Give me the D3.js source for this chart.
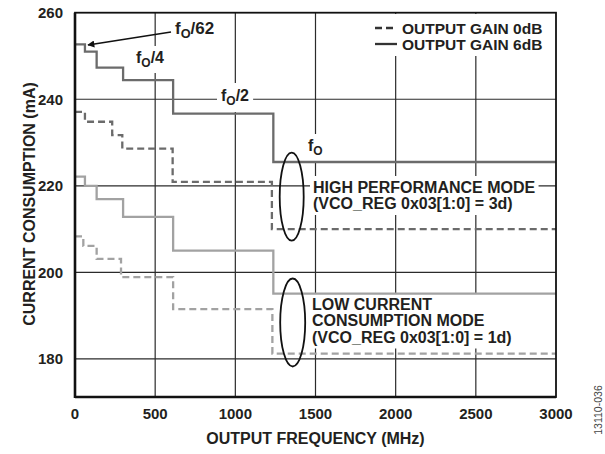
<!DOCTYPE html>
<html>
<head>
<meta charset="utf-8">
<script src="https://cdn.jsdelivr.net/npm/d3@7"></script>
<style>
  body { margin: 0; background: #fff; }
  svg text { font-family: "Liberation Sans", Arial, sans-serif; font-weight: bold; fill: #231f20; }
</style>
</head>
<body>
<div id="chart"></div>
<script>
// data
var freqTicks = [0, 500, 1000, 1500, 2000, 2500, 3000];
var currentTicks = [180, 200, 220, 240, 260];

// step curves: frequency where each level starts, and the level (mA)
var freqHi6 = [0, 62, 135, 300, 612, 1237, 3000];
var curHi6  = [252.7, 251.0, 247.3, 244.4, 236.7, 225.5, 225.5];

var freqHi0 = [0, 62, 232, 295, 609, 1228, 3000];
var curHi0  = [237.1, 234.8, 231.7, 228.6, 220.9, 210.0, 210.0];

var freqLo6 = [0, 62, 135, 300, 612, 1237, 3000];
var curLo6  = [222.1, 220.0, 216.9, 212.8, 205.0, 195.1, 195.1];

var freqLo0 = [0, 52, 135, 287, 612, 1231, 3000];
var curLo0  = [208.3, 206.1, 203.1, 198.9, 191.5, 181.2, 181.2];

var legendNames = ["OUTPUT GAIN 0dB", "OUTPUT GAIN 6dB"];

const W = 605, H = 454;
const margins = { top: 12.7, right: 49, bottom: 57, left: 75 };

const svg = d3.select("#chart").append("svg")
  .attr("width", W).attr("height", H);

const x = d3.scaleLinear().domain([0, 3000]).range([margins.left, W - margins.right]);
const y = d3.scaleLinear().domain([171.2, 260]).range([H - margins.bottom, margins.top]);

// grid
svg.append("g").selectAll("line").data(freqTicks.slice(1, -1)).enter().append("line")
  .attr("x1", d => x(d)).attr("x2", d => x(d))
  .attr("y1", y.range()[1]).attr("y2", y.range()[0])
  .attr("stroke", "#2b2b2b").attr("stroke-width", 1.2);
svg.append("g").selectAll("line").data(currentTicks.slice(0, -1)).enter().append("line")
  .attr("x1", x.range()[0]).attr("x2", x.range()[1])
  .attr("y1", d => y(d)).attr("y2", d => y(d))
  .attr("stroke", "#2b2b2b").attr("stroke-width", 1.2);

// layer for white boxes behind labels
const boxes = svg.append("g");
const lines = svg.append("g");
const labels = svg.append("g");

function knockout(sel, pad) {
  var b = sel.node().getBBox();
  boxes.append("rect")
    .attr("x", b.x - pad).attr("y", b.y - pad)
    .attr("width", b.width + pad * 2).attr("height", b.height + pad * 2)
    .attr("fill", "#fff");
}

// series
var stepLine = d3.line().curve(d3.curveStepAfter).x(d => x(d[0])).y(d => y(d[1]));

function drawSeries(fr, cur, color, dash) {
  lines.append("path")
    .datum(d3.zip(fr, cur))
    .attr("d", stepLine)
    .attr("fill", "none")
    .attr("stroke", color)
    .attr("stroke-width", 2.3)
    .attr("stroke-dasharray", dash);
}
drawSeries(freqHi6, curHi6, "#6b6b6b", null);
drawSeries(freqHi0, curHi0, "#6b6b6b", "7,4");
drawSeries(freqLo6, curLo6, "#a2a2a2", null);
drawSeries(freqLo0, curLo0, "#a2a2a2", "7,4");

// frame
svg.append("rect")
  .attr("x", x.range()[0]).attr("y", y.range()[1])
  .attr("width", x.range()[1] - x.range()[0])
  .attr("height", y.range()[0] - y.range()[1])
  .attr("fill", "none").attr("stroke", "#111").attr("stroke-width", 1.8);
svg.append("line")
  .attr("x1", x.range()[0]).attr("x2", x.range()[0])
  .attr("y1", y.range()[1]).attr("y2", y.range()[0] + 1)
  .attr("stroke", "#111").attr("stroke-width", 2.6);
svg.append("line")
  .attr("x1", x.range()[0]).attr("x2", x.range()[1])
  .attr("y1", y.range()[0]).attr("y2", y.range()[0])
  .attr("stroke", "#111").attr("stroke-width", 2.6);

// tick labels
svg.append("g").selectAll("text").data(freqTicks).enter().append("text")
  .attr("x", d => x(d)).attr("y", 419)
  .attr("text-anchor", "middle").attr("font-size", "15px")
  .text(d => d);
svg.append("g").selectAll("text").data(currentTicks).enter().append("text")
  .attr("x", 63).attr("y", d => y(d) + 5.3)
  .attr("text-anchor", "end").attr("font-size", "15px")
  .text(d => d);

// axis titles
svg.append("text")
  .attr("x", (x.range()[0] + x.range()[1]) / 2).attr("y", 444)
  .attr("text-anchor", "middle").attr("font-size", "16px")
  .text("OUTPUT FREQUENCY (MHz)");
svg.append("text")
  .attr("transform", "translate(35,204) rotate(-90)")
  .attr("text-anchor", "middle").attr("font-size", "16px")
  .text("CURRENT CONSUMPTION (mA)");
svg.append("text")
  .attr("transform", "translate(602,410) rotate(-90)")
  .attr("text-anchor", "middle").attr("font-size", "10.5px")
  .style("font-weight", "normal").style("fill", "#444")
  .text("13110-036");

// legend
var lg = labels.append("g");
legendNames.forEach(function(name, i) {
  var ty = 33.5 + i * 16;
  lg.append("text").attr("x", 402).attr("y", ty)
    .attr("font-size", "15.5px").text(name);
  lg.append("line")
    .attr("x1", 375).attr("x2", 397).attr("y1", ty - 5.5).attr("y2", ty - 5.5)
    .attr("stroke", "#333").attr("stroke-width", 2.3)
    .attr("stroke-dasharray", i === 0 ? "7,4" : null);
});
boxes.append("rect").attr("x", 370).attr("y", 14).attr("width", 182).attr("height", 42).attr("fill", "#fff");

// f_O labels
function fLabel(px, py, suffix, size) {
  var t = labels.append("text").attr("x", px).attr("y", py).attr("font-size", size + "px");
  t.append("tspan").text("f");
  t.append("tspan").attr("dy", 4).attr("font-size", (size * 0.75) + "px").text("O");
  if (suffix) t.append("tspan").attr("dy", -4).text(suffix);
  return t;
}
fLabel(175, 34, "/62", 17);
knockout(fLabel(136, 63, "/4", 16), 3);
knockout(fLabel(221, 101, "/2", 16), 4);
knockout(fLabel(308, 151, null, 16), 3);

// arrow
svg.append("defs").append("marker")
  .attr("id", "arr").attr("viewBox", "0 0 10 10").attr("refX", 9).attr("refY", 5)
  .attr("markerWidth", 9).attr("markerHeight", 7).attr("markerUnits", "userSpaceOnUse")
  .attr("orient", "auto")
  .append("path").attr("d", "M0,0L10,5L0,10z").attr("fill", "#111");
labels.append("line")
  .attr("x1", 171).attr("y1", 32).attr("x2", 88).attr("y2", 45)
  .attr("stroke", "#111").attr("stroke-width", 1.6)
  .attr("marker-end", "url(#arr)");

// mode annotations
var hp = labels.append("text").attr("font-size", "16px");
hp.append("tspan").attr("x", 313).attr("y", 193).text("HIGH PERFORMANCE MODE");
hp.append("tspan").attr("x", 313).attr("y", 209).text("(VCO_REG 0x03[1:0] = 3d)");
knockout(hp, 3);

var lc = labels.append("text").attr("font-size", "16px");
lc.append("tspan").attr("x", 312).attr("y", 310).text("LOW CURRENT");
lc.append("tspan").attr("x", 312).attr("y", 326).text("CONSUMPTION MODE");
lc.append("tspan").attr("x", 312).attr("y", 342.5).text("(VCO_REG 0x03[1:0] = 1d)");
knockout(lc, 3);

// ellipses
labels.append("ellipse").attr("cx", 291.7).attr("cy", 196.7).attr("rx", 12).attr("ry", 44)
  .attr("fill", "none").attr("stroke", "#111").attr("stroke-width", 1.8);
labels.append("ellipse").attr("cx", 292.7).attr("cy", 322.5).attr("rx", 12.5).attr("ry", 44)
  .attr("fill", "none").attr("stroke", "#111").attr("stroke-width", 1.8);
</script>
</body>
</html>
